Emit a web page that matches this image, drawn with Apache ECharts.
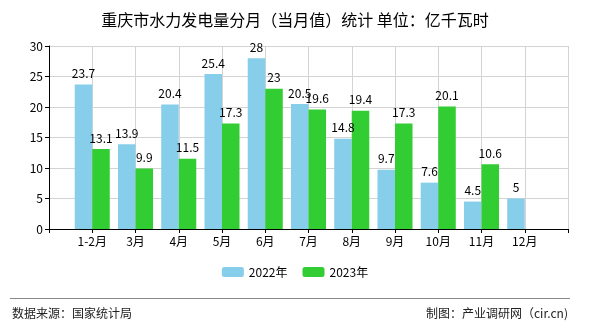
<!DOCTYPE html>
<html>
<head>
<meta charset="utf-8">
<script src="https://cdn.jsdelivr.net/npm/echarts@6/dist/echarts.min.js"></script>
<style>html,body{margin:0;padding:0;background:#fff;}#c{width:590px;height:330px;}</style>
</head>
<body>
<div id="c"></div>
<script>
var categories = ['', '1-2月', '3月', '4月', '5月', '6月', '7月', '8月', '9月', '10月', '11月', '12月', ''];
var values2022 = [null, 23.7, 13.9, 20.4, 25.4, 28, 20.5, 14.8, 9.7, 7.6, 4.5, 5, null];
var values2023 = [null, 13.1, 9.9, 11.5, 17.3, 23, 19.6, 19.4, 17.3, 20.1, 10.6, null, null];
var yTicks = {min: 0, max: 30, interval: 5};

var FONT = '"Noto Sans CJK SC", "DejaVu Sans", sans-serif';
var chart = echarts.init(document.getElementById('c'), null, {renderer: 'canvas'});
var labelStyle = {show: true, position: 'top', color: '#000', fontSize: 12, fontFamily: FONT, distance: 5};
chart.setOption({
  animation: false,
  backgroundColor: '#fff',
  title: {
    text: '重庆市水力发电量分月（当月值）统计 单位：亿千瓦时',
    left: 'center', top: 7,
    textStyle: {fontSize: 16, fontWeight: 'normal', color: '#000', fontFamily: FONT}
  },
  legend: {
    data: ['2022年', '2023年'],
    bottom: 47, left: 'center',
    itemWidth: 22, itemHeight: 10, itemGap: 15,
    textStyle: {fontSize: 12, color: '#000', fontFamily: FONT}
  },
  grid: {left: 49, right: 22, top: 46, bottom: 101, containLabel: false},
  xAxis: {
    type: 'category',
    data: categories,
    boundaryGap: false,
    axisLine: {lineStyle: {color: '#000', width: 1}},
    axisTick: {show: true, length: 4, lineStyle: {color: '#000'}},
    axisLabel: {color: '#000', fontSize: 12, fontFamily: FONT, margin: 6, interval: 0},
    splitLine: {show: true, lineStyle: {color: '#d3d3d3', width: 1}}
  },
  yAxis: {
    type: 'value',
    min: yTicks.min, max: yTicks.max, interval: yTicks.interval,
    axisLine: {show: true, lineStyle: {color: '#000', width: 1}},
    axisTick: {show: true, length: 4, lineStyle: {color: '#000'}},
    axisLabel: {color: '#000', fontSize: 12, fontFamily: FONT, margin: 6},
    splitLine: {show: true, lineStyle: {color: '#d3d3d3', width: 1}}
  },
  series: [
    {name: '2022年', type: 'bar', data: values2022, barGap: '0%', barCategoryGap: '19%',
     itemStyle: {color: '#87CEEB'}, label: labelStyle},
    {name: '2023年', type: 'bar', data: values2023, barGap: '0%', barCategoryGap: '19%',
     itemStyle: {color: '#32CD32'}, label: labelStyle}
  ],
  graphic: [
    {type: 'line', shape: {x1: 10, y1: 298.5, x2: 570, y2: 298.5}, style: {stroke: '#888', lineWidth: 1}},
    {type: 'text', left: 12, top: 307, style: {text: '数据来源：国家统计局', fill: '#222', font: '12px ' + FONT}},
    {type: 'text', right: 22, top: 307, style: {text: '制图：产业调研网（cir.cn)', fill: '#222', font: '12px ' + FONT}}
  ]
});
</script>
</body>
</html>
